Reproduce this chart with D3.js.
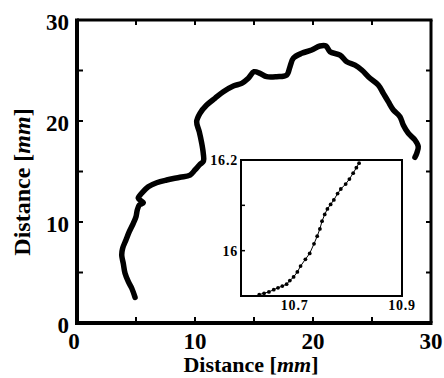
<!DOCTYPE html>
<html><head><meta charset="utf-8">
<script src="https://cdn.jsdelivr.net/npm/d3@7"></script>
<style>body{margin:0;background:#fff}svg{display:block}text{font-family:"Liberation Serif","Times New Roman",serif;font-weight:bold;fill:#000}</style>
</head><body><svg id="c" width="444" height="378"></svg>
<script>
// main trajectory (mm)
const pathX = [4.92,4.64,4.35,4.07,3.92,3.79,3.87,4.15,4.43,4.77,5.00,5.11,5.28,5.62,5.19,5.48,6.04,6.75,7.60,8.73,9.58,10.00,10.42,10.72,10.70,10.57,10.36,10.14,10.42,10.99,11.69,12.40,13.25,13.96,14.52,15.00,15.51,16.08,16.92,17.77,18.05,18.33,19.04,19.89,20.59,21.10,21.44,22.29,22.86,23.56,24.13,24.83,25.53,25.96,26.38,26.81,27.37,27.65,28.08,28.64,28.92,28.79,28.64];
const pathY = [2.54,3.44,4.09,4.92,5.91,6.73,7.40,8.22,9.04,9.87,10.52,11.19,11.68,11.91,12.35,12.84,13.50,13.89,14.16,14.43,14.65,15.15,15.70,16.04,16.80,17.79,18.94,19.93,20.76,21.58,22.25,22.90,23.47,23.73,24.23,24.88,24.72,24.39,24.39,24.55,25.38,26.21,26.70,27.03,27.43,27.43,26.86,26.53,25.87,25.54,25.05,24.23,23.56,22.74,21.91,21.09,20.43,19.60,18.78,18.12,17.46,16.80,16.41];
// inset (zoomed detail)
const insetX = [10.634,10.643,10.652,10.661,10.669,10.677,10.685,10.691,10.698,10.705,10.711,10.720,10.728,10.736,10.742,10.747,10.751,10.756,10.761,10.767,10.773,10.780,10.786,10.795,10.802,10.809,10.815,10.820];
const insetY = [15.903,15.906,15.909,15.914,15.918,15.922,15.926,15.934,15.942,15.953,15.966,15.981,15.994,16.015,16.032,16.048,16.065,16.080,16.092,16.102,16.112,16.126,16.136,16.147,16.158,16.171,16.183,16.193];
const mainTicks = [0,10,20,30];
const mainMinor = [5,15,25];
const insetXTicks = [10.7,10.9];
const insetYTicks = [16,16.2];
const insetYMinor = [16.1];

const svg = d3.select("#c");
const x = d3.scaleLinear().domain([0,30]).range([77,431]);
const y = d3.scaleLinear().domain([0,30]).range([323,20]);

// main line
svg.append("path")
  .datum(pathX.map((v,i)=>[v,pathY[i]]))
  .attr("fill","none").attr("stroke","#000").attr("stroke-width",5.5)
  .attr("stroke-linejoin","round").attr("stroke-linecap","round")
  .attr("d", d3.line().x(d=>x(d[0])).y(d=>y(d[1])).curve(d3.curveCatmullRom));

// frame
const g = svg.append("g");
g.append("line").attr("x1",x(0)).attr("x2",x(0)).attr("y1",y(30)-1.5).attr("y2",y(0)+2).attr("stroke","#000").attr("stroke-width",4);
g.append("line").attr("x1",x(0)-2).attr("x2",x(30)+1.5).attr("y1",y(0)).attr("y2",y(0)).attr("stroke","#000").attr("stroke-width",4);
g.append("line").attr("x1",x(0)).attr("x2",x(30)+1.5).attr("y1",y(30)).attr("y2",y(30)).attr("stroke","#000").attr("stroke-width",3);
g.append("line").attr("x1",x(30)).attr("x2",x(30)).attr("y1",y(30)).attr("y2",y(0)).attr("stroke","#000").attr("stroke-width",3);

const allT = mainTicks.concat(mainMinor).filter(t=>t>0&&t<30);
allT.forEach(t=>{
  g.append("line").attr("x1",x(t)).attr("x2",x(t)).attr("y1",y(0)).attr("y2",y(0)-6).attr("stroke","#000").attr("stroke-width",2);
  g.append("line").attr("x1",x(t)).attr("x2",x(t)).attr("y1",y(30)).attr("y2",y(30)+5).attr("stroke","#000").attr("stroke-width",2);
  g.append("line").attr("y1",y(t)).attr("y2",y(t)).attr("x1",x(0)).attr("x2",x(0)+6).attr("stroke","#000").attr("stroke-width",2);
  g.append("line").attr("y1",y(t)).attr("y2",y(t)).attr("x1",x(30)).attr("x2",x(30)-5).attr("stroke","#000").attr("stroke-width",2);
});

// tick labels
mainTicks.forEach(t=>{
  svg.append("text").attr("x",x(t)-(t===0?3:0)).attr("y",349).attr("text-anchor","middle").attr("font-size",23).text(t);
  svg.append("text").attr("x",69).attr("y",y(t)+10).attr("text-anchor","end").attr("font-size",23).text(t);
});

// axis labels
const xl = svg.append("text").attr("x",251).attr("y",372).attr("text-anchor","middle").attr("font-size",22);
xl.append("tspan").text("Distance [");
xl.append("tspan").attr("font-style","italic").text("mm");
xl.append("tspan").text("]");
const yl = svg.append("text").attr("transform","translate(30,182) rotate(-90)").attr("text-anchor","middle").attr("font-size",24);
yl.append("tspan").text("Distance [");
yl.append("tspan").attr("font-style","italic").text("mm");
yl.append("tspan").text("]");

// inset
const ix = d3.scaleLinear().domain([10.6,10.9]).range([241,402]);
const iy = d3.scaleLinear().domain([15.9,16.2]).range([296,160]);
svg.append("rect").attr("x",241).attr("y",160).attr("width",161).attr("height",136).attr("fill","#fff").attr("stroke","none");
const ipts = insetX.map((v,i)=>[v,insetY[i]]);
svg.append("path").datum(ipts).attr("fill","none").attr("stroke","#000").attr("stroke-width",1)
  .attr("d", d3.line().x(d=>ix(d[0])).y(d=>iy(d[1])));
svg.selectAll("circle.ip").data(ipts).enter().append("circle")
  .attr("cx",d=>ix(d[0])).attr("cy",d=>iy(d[1])).attr("r",1.9).attr("fill","#000");
svg.append("rect").attr("x",241).attr("y",160).attr("width",161).attr("height",136).attr("fill","none").attr("stroke","#000").attr("stroke-width",2);
insetYTicks.concat(insetYMinor).forEach(t=>{
  if (t<16.2) svg.append("line").attr("x1",241).attr("x2",245).attr("y1",iy(t)).attr("y2",iy(t)).attr("stroke","#000").attr("stroke-width",1.5);
});
insetYTicks.forEach(t=>{
  svg.append("text").attr("x",238).attr("y",iy(t)+5).attr("text-anchor","end").attr("font-size",14).attr("letter-spacing",0.8).text(t===16?"16":t.toFixed(1));
});
insetXTicks.forEach(t=>{
  svg.append("text").attr("x",ix(t)).attr("y",310).attr("text-anchor","middle").attr("font-size",14).attr("letter-spacing",0.8).text(t.toFixed(1));
});
</script></body></html>
